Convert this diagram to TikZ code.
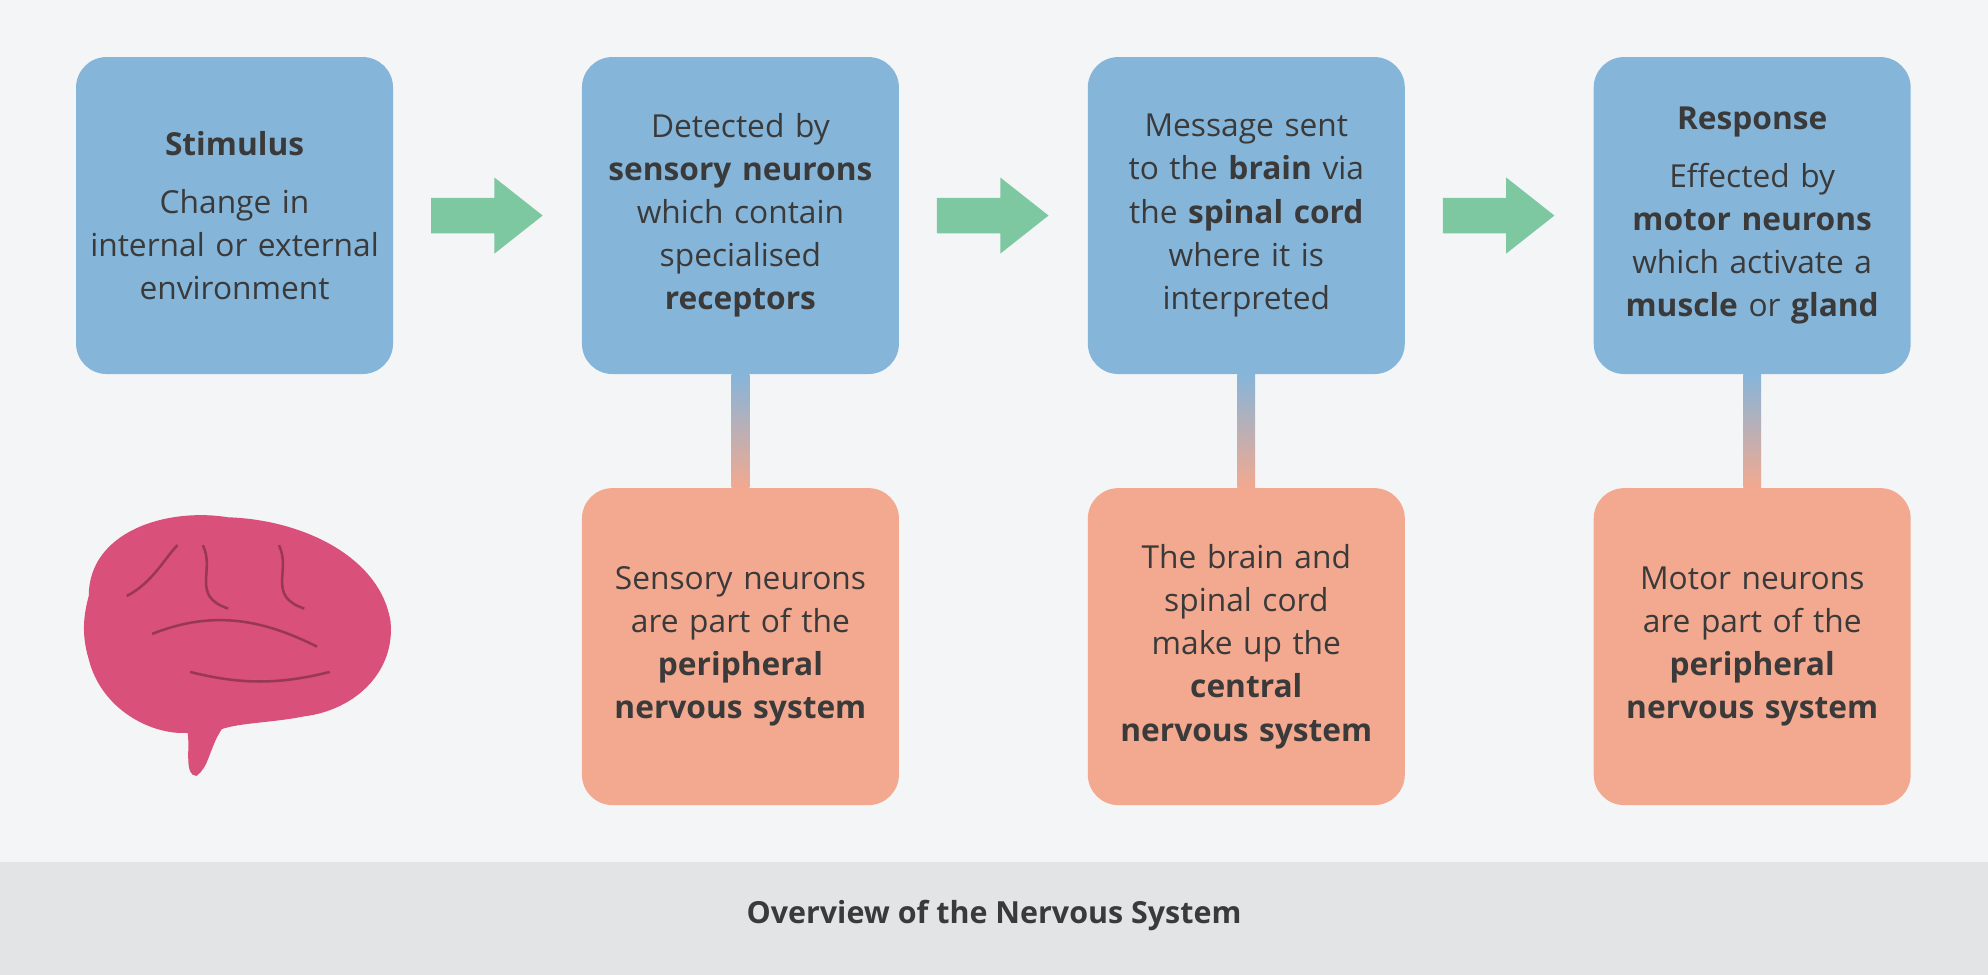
\documentclass[tikz,border=0pt]{standalone}
\usepackage{fontspec}
\setmainfont{Open Sans}
\usetikzlibrary{positioning,calc}
\definecolor{bgcol}{HTML}{F4F5F7}
\definecolor{bandcol}{HTML}{E3E4E6}
\definecolor{bluebox}{HTML}{86B5DA}
\definecolor{orangebox}{HTML}{F2A98F}
\definecolor{greenarr}{HTML}{7DC8A0}
\definecolor{txtcol}{HTML}{3A3A3A}
\definecolor{brainpink}{HTML}{D9507A}
\tikzset{
  box/.style={rounded corners=24pt, minimum width=250pt, minimum height=250pt,
    text width=244pt, align=center, text=txtcol, inner sep=3pt,
    font=\fontsize{25}{34}\selectfont},
  bluebox/.style={box, fill=bluebox},
  orangebox/.style={box, fill=orangebox}
}
\begin{document}
\begin{tikzpicture}[x=1pt,y=-1pt]
  \fill[bgcol] (0,0) rectangle (1568,680);
  \fill[bandcol] (0,680) rectangle (1568,769);
  \useasboundingbox (0,0) rectangle (1568,769);

  \node (b1) [bluebox] at (185,170) {\textbf{Stimulus}\\[12pt]Change in\\internal or external\\environment};
  \node (b2) [bluebox] at (584,170) {Detected by\\\textbf{sensory neurons}\\which contain\\specialised\\\textbf{receptors}};
  \node (b3) [bluebox] at (983,170) {Message sent\\to the \textbf{brain} via\\the \textbf{spinal cord}\\where it is\\interpreted};
  \node (b4) [bluebox] at (1382,170) {\textbf{Response}\\[12pt]Effected by\\\textbf{motor neurons}\\which activate a\\\textbf{muscle} or \textbf{gland}};

  \node (o2) [orangebox] at (584,510) {Sensory neurons\\are part of the\\\textbf{peripheral}\\\textbf{nervous system}};
  \node (o3) [orangebox] at (983,510) {The brain and\\spinal cord\\make up the\\\textbf{central}\\\textbf{nervous system}};
  \node (o4) [orangebox] at (1382,510) {Motor neurons\\are part of the\\\textbf{peripheral}\\\textbf{nervous system}};

  % green arrows between the top boxes
  \foreach \x in {340,739,1138}
    \fill[greenarr] (\x,156) -- ++(50,0) -- ++(0,-16) -- ++(38,30) -- ++(-38,30)
      -- ++(0,-16) -- ++(-50,0) -- cycle;

  \foreach \i in {2,3,4}
    \shade[top color=bluebox, bottom color=orangebox]
      ($(b\i.south)+(-7,0)$) rectangle ($(o\i.north)+(7,0)$);

  % brain
  \fill[brainpink] (70,470) .. controls (70,420) and (130,400) .. (180,408)
    .. controls (240,410) and (300,440) .. (308,490)
    .. controls (312,530) and (280,560) .. (240,565)
    .. controls (215,570) and (190,570) .. (175,575)
    .. controls (165,590) and (165,605) .. (155,612)
    .. controls (145,612) and (150,590) .. (148,578)
    .. controls (120,580) and (80,560) .. (70,520)
    .. controls (64,500) and (66,485) .. (70,470) -- cycle;
  \draw[brainpink!70!black, line width=2pt] (120,500) .. controls (170,480) and (210,490) .. (250,510)
    (160,430) .. controls (170,450) and (150,470) .. (180,480)
    (220,430) .. controls (230,450) and (210,470) .. (240,480)
    (100,470) .. controls (120,460) and (130,440) .. (140,430)
    (150,530) .. controls (190,540) and (220,540) .. (260,530);

  \node (title) [text=txtcol, font=\fontsize{24}{28}\selectfont\bfseries] at (784,722) {Overview of the Nervous System};
\end{tikzpicture}
\end{document}
